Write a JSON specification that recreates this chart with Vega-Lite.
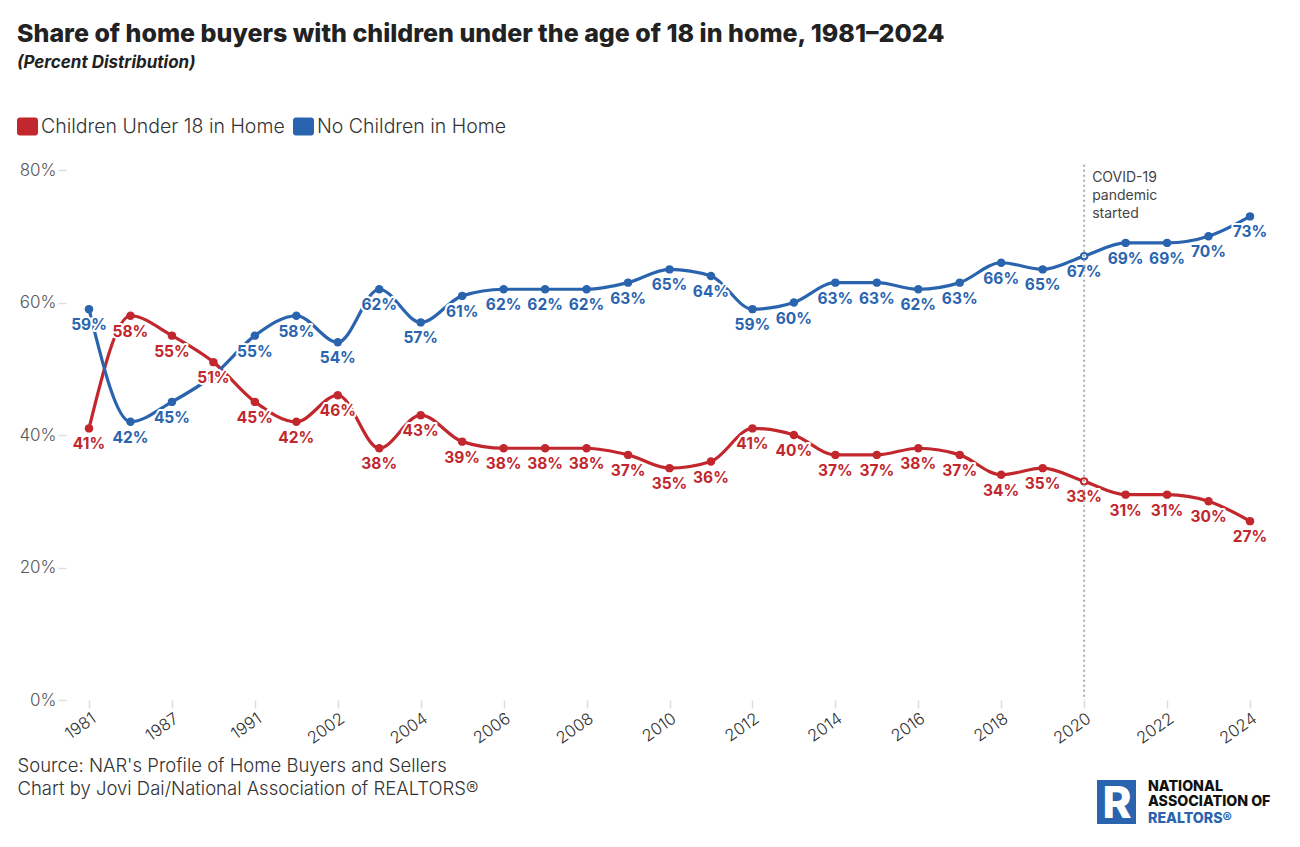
{
  "$schema": "https://vega.github.io/schema/vega-lite/v6.json",
  "autosize": {"type": "none"},
  "width": 1207,
  "height": 530,
  "padding": {"left": 66, "top": 170, "right": 27, "bottom": 147},
  "background": "white",
  "config": {
    "font": "Inter",
    "view": {"stroke": null},
    "axis": {"labelFont": "Inter", "titleFont": "Inter"},
    "legend": {"labelFont": "Inter"}
  },
  "title": {
    "text": "Share of home buyers with children under the age of 18 in home, 1981–2024",
    "subtitle": "(Percent Distribution)",
    "anchor": "start",
    "frame": "group",
    "dx": -49,
    "offset": 45,
    "fontSize": 25,
    "fontWeight": 800,
    "color": "#222222",
    "subtitleFontSize": 17,
    "subtitleFontStyle": "italic",
    "subtitleFontWeight": 700,
    "subtitleColor": "#222222",
    "subtitlePadding": 8
  },
  "data": {
    "values": [
      {"year": "1981", "series": "Children Under 18 in Home", "value": 0.41},
      {"year": "1985", "series": "Children Under 18 in Home", "value": 0.58},
      {"year": "1987", "series": "Children Under 18 in Home", "value": 0.55},
      {"year": "1989", "series": "Children Under 18 in Home", "value": 0.51},
      {"year": "1991", "series": "Children Under 18 in Home", "value": 0.45},
      {"year": "2001", "series": "Children Under 18 in Home", "value": 0.42},
      {"year": "2002", "series": "Children Under 18 in Home", "value": 0.46},
      {"year": "2003", "series": "Children Under 18 in Home", "value": 0.38},
      {"year": "2004", "series": "Children Under 18 in Home", "value": 0.43},
      {"year": "2005", "series": "Children Under 18 in Home", "value": 0.39},
      {"year": "2006", "series": "Children Under 18 in Home", "value": 0.38},
      {"year": "2007", "series": "Children Under 18 in Home", "value": 0.38},
      {"year": "2008", "series": "Children Under 18 in Home", "value": 0.38},
      {"year": "2009", "series": "Children Under 18 in Home", "value": 0.37},
      {"year": "2010", "series": "Children Under 18 in Home", "value": 0.35},
      {"year": "2011", "series": "Children Under 18 in Home", "value": 0.36},
      {"year": "2012", "series": "Children Under 18 in Home", "value": 0.41},
      {"year": "2013", "series": "Children Under 18 in Home", "value": 0.40},
      {"year": "2014", "series": "Children Under 18 in Home", "value": 0.37},
      {"year": "2015", "series": "Children Under 18 in Home", "value": 0.37},
      {"year": "2016", "series": "Children Under 18 in Home", "value": 0.38},
      {"year": "2017", "series": "Children Under 18 in Home", "value": 0.37},
      {"year": "2018", "series": "Children Under 18 in Home", "value": 0.34},
      {"year": "2019", "series": "Children Under 18 in Home", "value": 0.35},
      {"year": "2020", "series": "Children Under 18 in Home", "value": 0.33},
      {"year": "2021", "series": "Children Under 18 in Home", "value": 0.31},
      {"year": "2022", "series": "Children Under 18 in Home", "value": 0.31},
      {"year": "2023", "series": "Children Under 18 in Home", "value": 0.30},
      {"year": "2024", "series": "Children Under 18 in Home", "value": 0.27},
      {"year": "1981", "series": "No Children in Home", "value": 0.59},
      {"year": "1985", "series": "No Children in Home", "value": 0.42},
      {"year": "1987", "series": "No Children in Home", "value": 0.45},
      {"year": "1989", "series": "No Children in Home", "value": 0.49},
      {"year": "1991", "series": "No Children in Home", "value": 0.55},
      {"year": "2001", "series": "No Children in Home", "value": 0.58},
      {"year": "2002", "series": "No Children in Home", "value": 0.54},
      {"year": "2003", "series": "No Children in Home", "value": 0.62},
      {"year": "2004", "series": "No Children in Home", "value": 0.57},
      {"year": "2005", "series": "No Children in Home", "value": 0.61},
      {"year": "2006", "series": "No Children in Home", "value": 0.62},
      {"year": "2007", "series": "No Children in Home", "value": 0.62},
      {"year": "2008", "series": "No Children in Home", "value": 0.62},
      {"year": "2009", "series": "No Children in Home", "value": 0.63},
      {"year": "2010", "series": "No Children in Home", "value": 0.65},
      {"year": "2011", "series": "No Children in Home", "value": 0.64},
      {"year": "2012", "series": "No Children in Home", "value": 0.59},
      {"year": "2013", "series": "No Children in Home", "value": 0.60},
      {"year": "2014", "series": "No Children in Home", "value": 0.63},
      {"year": "2015", "series": "No Children in Home", "value": 0.63},
      {"year": "2016", "series": "No Children in Home", "value": 0.62},
      {"year": "2017", "series": "No Children in Home", "value": 0.63},
      {"year": "2018", "series": "No Children in Home", "value": 0.66},
      {"year": "2019", "series": "No Children in Home", "value": 0.65},
      {"year": "2020", "series": "No Children in Home", "value": 0.67},
      {"year": "2021", "series": "No Children in Home", "value": 0.69},
      {"year": "2022", "series": "No Children in Home", "value": 0.69},
      {"year": "2023", "series": "No Children in Home", "value": 0.70},
      {"year": "2024", "series": "No Children in Home", "value": 0.73}
    ]
  },
  "encoding": {
    "x": {
      "field": "year",
      "type": "ordinal",
      "scale": {"type": "point", "padding": 0.555},
      "axis": {
        "values": ["1981", "1987", "1991", "2002", "2004", "2006", "2008", "2010", "2012", "2014", "2016", "2018", "2020", "2022", "2024"],
        "domain": false,
        "grid": false,
        "tickColor": "#dddddd",
        "tickSize": 8,
        "tickWidth": 1.5,
        "labelAngle": -35,
        "labelAlign": "right",
        "labelBaseline": "top",
        "labelPadding": 2,
        "labelFontSize": 16.5,
        "labelFontWeight": 300,
        "labelColor": "#333333",
        "title": ["Source: NAR's Profile of Home Buyers and Sellers", "Chart by Jovi Dai/National Association of REALTORS®"],
        "titleAnchor": null,
        "titleAlign": "left",
        "titleBaseline": "alphabetic",
        "titleX": -49,
        "titleY": 71,
        "titleFontSize": 18.5,
        "titleFontWeight": 300,
        "titleColor": "#333333",
        "titleLineHeight": 23
      }
    },
    "y": {
      "field": "value",
      "type": "quantitative",
      "scale": {"domain": [0, 0.8], "nice": false, "zero": true},
      "axis": {
        "values": [0, 0.2, 0.4, 0.6, 0.8],
        "format": ".0%",
        "domain": false,
        "grid": false,
        "tickColor": "#dddddd",
        "tickSize": 8,
        "tickWidth": 1.5,
        "labelPadding": 2,
        "labelFontSize": 17,
        "labelFontWeight": 300,
        "labelColor": "#555555",
        "title": null
      }
    },
    "color": {
      "field": "series",
      "type": "nominal",
      "scale": {
        "domain": ["Children Under 18 in Home", "No Children in Home"],
        "range": ["#c1272d", "#2a64ae"]
      },
      "legend": {
        "orient": "none",
        "legendX": -49,
        "legendY": -54,
        "direction": "horizontal",
        "title": null,
        "symbolType": "M-1,-0.6A0.26,0.26,0,0,1,-0.74,-0.86L0.74,-0.86A0.26,0.26,0,0,1,1,-0.6L1,0.6A0.26,0.26,0,0,1,0.74,0.86L-0.74,0.86A0.26,0.26,0,0,1,-1,0.6Z",
        "symbolSize": 441,
        "symbolStrokeWidth": 0,
        "symbolOpacity": 1,
        "labelFontSize": 19.5,
        "labelFontWeight": 300,
        "labelColor": "#333333",
        "labelLimit": 0,
        "labelOffset": 3,
        "columnPadding": 8,
        "encode": {
          "symbols": {
            "update": {
              "fill": {"scale": "color", "field": "value"},
              "strokeWidth": {"value": 0},
              "opacity": {"value": 1}
            }
          }
        }
      }
    }
  },
  "layer": [
    {
      "mark": {"type": "line", "interpolate": "monotone", "strokeWidth": 3.2}
    },
    {
      "mark": {"type": "point", "filled": true, "size": 72, "opacity": 1}
    },
    {
      "transform": [{"filter": "datum.year == '2020'"}],
      "mark": {"type": "point", "filled": true, "size": 18, "opacity": 1, "color": "white"},
      "encoding": {"color": {"value": "white"}}
    },
    {
      "transform": [{"filter": "!(datum.year == '1989' && datum.series == 'No Children in Home')"}],
      "mark": {"type": "text", "fontSize": 15.5, "fontWeight": 700, "baseline": "middle", "dy": 16, "stroke": "white", "strokeWidth": 4, "strokeJoin": "round", "fill": "white"},
      "encoding": {
        "text": {"field": "value", "type": "quantitative", "format": ".0%"},
        "color": {"value": "white"}
      }
    },
    {
      "transform": [{"filter": "!(datum.year == '1989' && datum.series == 'No Children in Home')"}],
      "mark": {"type": "text", "fontSize": 15.5, "fontWeight": 700, "baseline": "middle", "dy": 16},
      "encoding": {
        "text": {"field": "value", "type": "quantitative", "format": ".0%"}
      }
    },
    {
      "transform": [{"filter": "datum.year == '2020' && datum.series == 'No Children in Home'"}],
      "mark": {"type": "rule", "strokeDash": [2, 3], "strokeWidth": 2, "color": "#aaaaaa"},
      "encoding": {
        "y": {"datum": 0.808},
        "y2": {"datum": 0},
        "color": {"value": "#aaaaaa"}
      }
    },
    {
      "transform": [{"filter": "datum.year == '2020' && datum.series == 'No Children in Home'"}],
      "mark": {"type": "text", "align": "left", "baseline": "top", "dx": 8, "dy": 1, "fontSize": 14, "lineHeight": 18, "text": ["COVID-19", "pandemic", "started"], "color": "#444444"},
      "encoding": {
        "y": {"datum": 0.8},
        "color": {"value": "#444444"}
      }
    },
    {
      "transform": [{"filter": "datum.year == '2024' && datum.series == 'No Children in Home'"}],
      "mark": {"type": "rect", "color": "#2a64ae"},
      "encoding": {
        "x": {"value": 1031},
        "x2": {"value": 1070},
        "y": {"value": 610},
        "y2": {"value": 654},
        "color": {"value": "#2a64ae"}
      }
    },
    {
      "transform": [{"filter": "datum.year == '2024' && datum.series == 'No Children in Home'"}],
      "mark": {"type": "text", "align": "center", "baseline": "alphabetic", "fontSize": 44, "fontWeight": 800, "text": "R", "color": "white"},
      "encoding": {
        "x": {"value": 1051},
        "y": {"value": 648},
        "color": {"value": "white"}
      }
    },
    {
      "transform": [{"filter": "datum.year == '2024' && datum.series == 'No Children in Home'"}],
      "mark": {"type": "text", "align": "left", "baseline": "alphabetic", "fontSize": 14.2, "fontWeight": 800, "lineHeight": 15, "text": ["NATIONAL", "ASSOCIATION OF"], "color": "#111111"},
      "encoding": {
        "x": {"value": 1082},
        "y": {"value": 621},
        "color": {"value": "#111111"}
      }
    },
    {
      "transform": [{"filter": "datum.year == '2024' && datum.series == 'No Children in Home'"}],
      "mark": {"type": "text", "align": "left", "baseline": "alphabetic", "fontSize": 14.2, "fontWeight": 800, "text": "REALTORS®", "color": "#2a64ae"},
      "encoding": {
        "x": {"value": 1082},
        "y": {"value": 653},
        "color": {"value": "#2a64ae"}
      }
    }
  ]
}
